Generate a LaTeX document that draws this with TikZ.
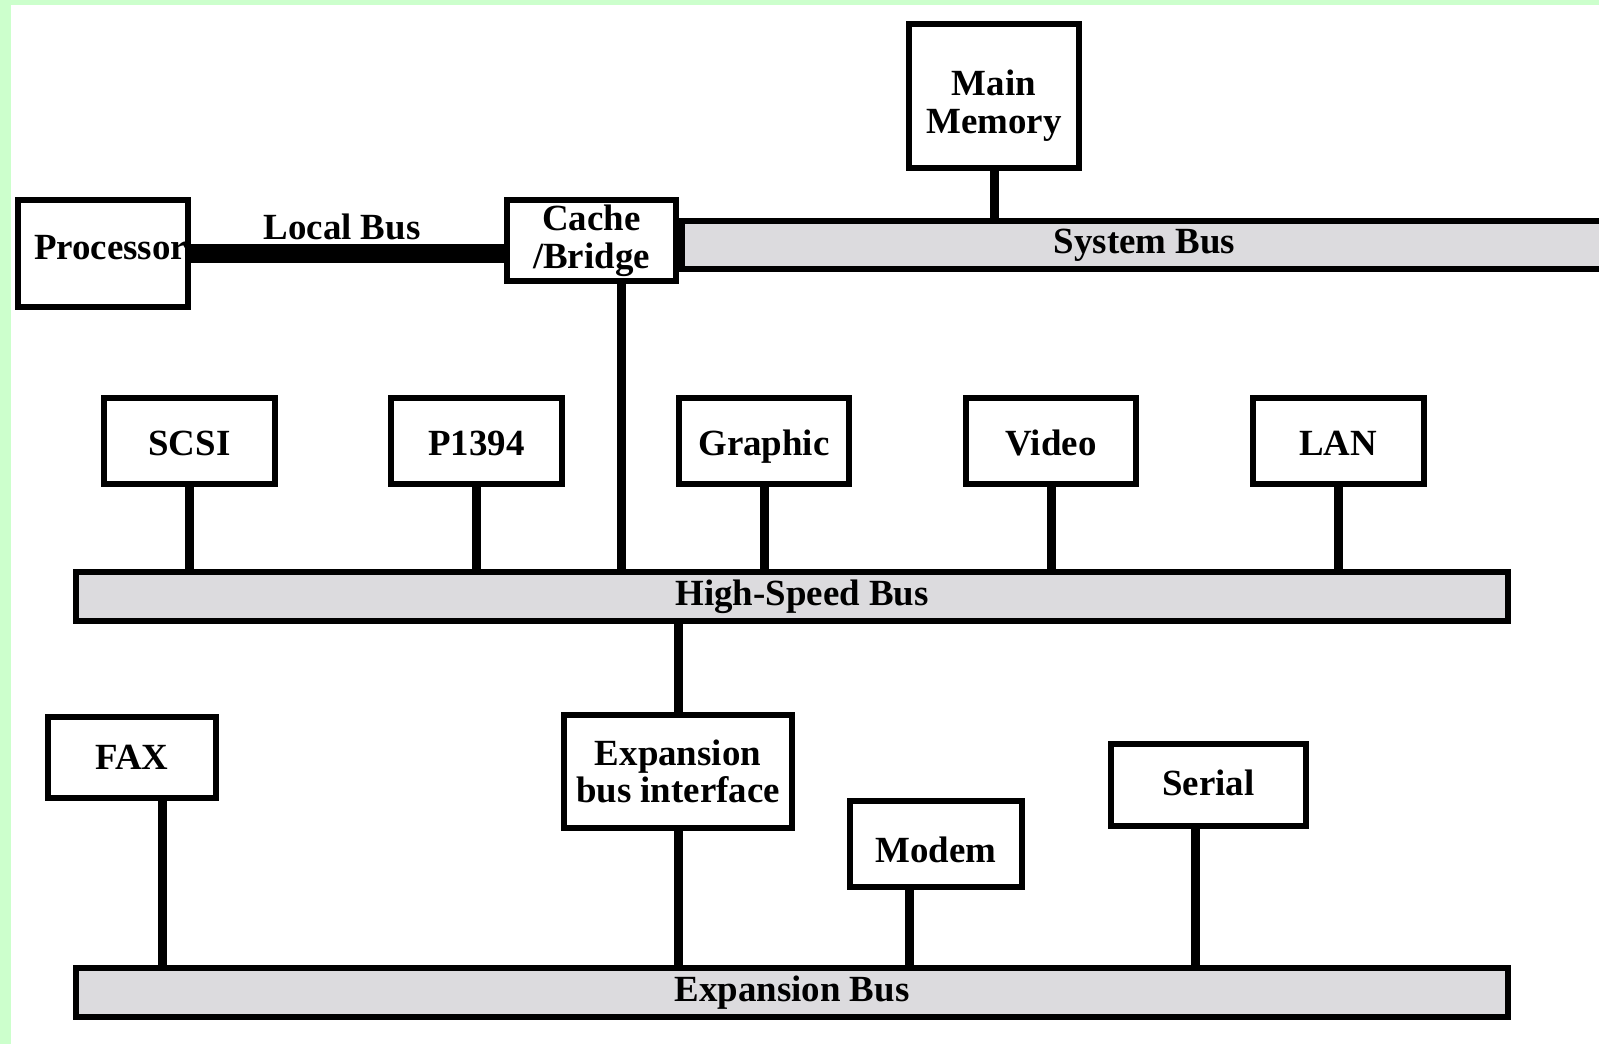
\documentclass[tikz,border=0pt]{standalone}
\usepackage{fontspec}
\setmainfont{Liberation Serif}
\definecolor{busgray}{RGB}{220,219,222}
\definecolor{framegreen}{RGB}{204,255,204}
\tikzset{
  unit/.style={draw, line width=0.12cm, fill=white, align=center, inner sep=0pt,
    font=\bfseries\fontsize{21}{21.5}\selectfont},
  solo/.style={text height=#1, text depth=4.2pt},
  solo/.default=21pt,
  bus/.style={draw, line width=0.12cm, fill=busgray, inner sep=0pt,
    font=\bfseries\fontsize{21}{21.5}\selectfont},
  tap/.style={line width=0.18cm}
}
\begin{document}
\begin{tikzpicture}[x=0.02cm, y=-0.02cm]
        \useasboundingbox (0,0) rectangle (1599,1044);

        % Green frame on top and left edge
        \fill[framegreen] (0,0) rectangle (1599,1044);
        \fill[white] (11,5) rectangle (1599,1044);

        % Buses
        \node[bus, minimum width=18.5cm, minimum height=0.96cm] (sysbus) at (1144.5,245) {System Bus};
        \node[bus, minimum width=28.64cm, minimum height=0.98cm] (hsbus) at (792,596.5) {\hspace*{0.4cm}High-Speed Bus};
        \node[bus, minimum width=28.64cm, minimum height=0.98cm] (expbus) at (792,992.5) {Expansion Bus};

        % Top part
        \node[unit, minimum width=3.4cm, minimum height=2.88cm] (mem) at (994,96) {\rule{0pt}{1.2em}Main\\Memory};
        \node[unit, solo=11pt, minimum width=3.4cm, minimum height=2.14cm] (proc) at (103,253.5) {\hspace*{0.3cm}Processor};
        \node[unit, minimum width=3.38cm, minimum height=1.62cm] (cache) at (591.5,240.5) {Cache\\/Bridge};
        \node[font=\bfseries\fontsize{21}{21.5}\selectfont] (lbus) at (342,227) {Local Bus};

        % Devices on the high-speed bus
        \node[unit, solo, minimum width=3.42cm, minimum height=1.72cm] (scsi) at (189.5,441) {SCSI};
        \node[unit, solo, minimum width=3.42cm, minimum height=1.72cm] (p1394) at (476.5,441) {P1394};
        \node[unit, solo, minimum width=3.42cm, minimum height=1.72cm] (graphic) at (764,441) {Graphic};
        \node[unit, solo, minimum width=3.42cm, minimum height=1.72cm] (video) at (1051,441) {Video};
        \node[unit, solo, minimum width=3.42cm, minimum height=1.72cm] (lan) at (1338,441) {LAN};

        % Devices on the expansion bus
        \node[unit, solo=18pt, minimum width=3.36cm, minimum height=1.62cm] (fax) at (132,757.5) {FAX};
        \node[unit, minimum width=4.56cm, minimum height=2.26cm] (expif) at (678,771.5) {Expansion\\bus interface};
        \node[unit, solo=25pt, minimum width=3.44cm, minimum height=1.72cm] (modem) at (936,844) {Modem};
        \node[unit, solo=16pt, minimum width=3.9cm, minimum height=1.64cm] (serial) at (1208.5,785) {Serial};

        % Tap points that are not centred under a box
        \coordinate (tapcb) at (621,0);
        \coordinate (tapfax) at (162,0);
        \coordinate (tapmod) at (909,0);
        \coordinate (tapser) at (1195,0);

        % Connectors
        \draw[line width=0.4cm] (proc.east) -- (proc.east -| cache.west);
        \draw[tap] (mem.south) -- (mem.south |- sysbus.north);
        \draw[tap] (tapcb |- cache.south) -- (tapcb |- hsbus.north);
        \foreach \dev in {scsi, p1394, graphic, video, lan}
          \draw[tap] (\dev.south) -- (\dev.south |- hsbus.north);
        \draw[tap] (expif.north) -- (expif.north |- hsbus.south);
        \draw[tap] (expif.south) -- (expif.south |- expbus.north);
        \draw[tap] (tapfax |- fax.south) -- (tapfax |- expbus.north);
        \draw[tap] (tapmod |- modem.south) -- (tapmod |- expbus.north);
        \draw[tap] (tapser |- serial.south) -- (tapser |- expbus.north);
\end{tikzpicture}
\end{document}
